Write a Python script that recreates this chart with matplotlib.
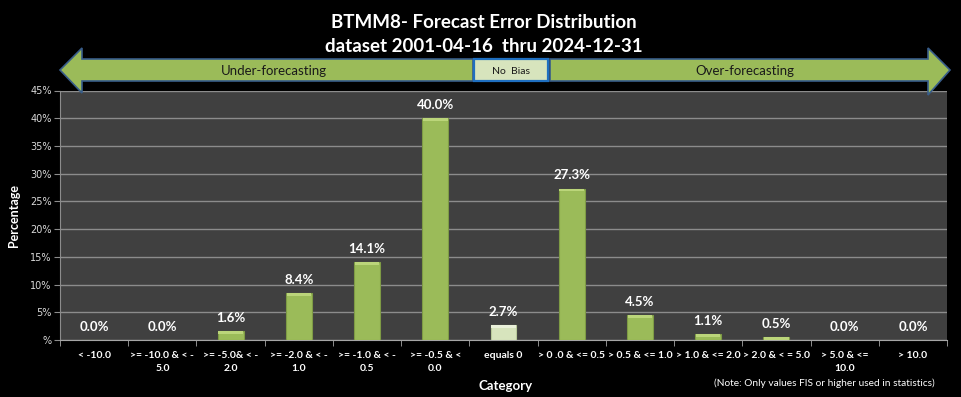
import matplotlib
matplotlib.use("Agg")
import matplotlib.pyplot as plt
from matplotlib.patches import Polygon, Rectangle
import numpy as np

categories = [
    "< -10.0",
    ">= -10.0 & < -\n5.0",
    ">= -5.0& < -\n2.0",
    ">= -2.0 & < -\n1.0",
    ">= -1.0 & < -\n0.5",
    ">= -0.5 & <\n0.0",
    "equals 0",
    "> 0 .0 & <= 0.5",
    "> 0.5 & <= 1.0",
    "> 1.0 & <= 2.0",
    "> 2.0 & < = 5.0",
    "> 5.0 & <=\n10.0",
    "> 10.0",
]
values = [0.0, 0.0, 1.6, 8.4, 14.1, 40.0, 2.7, 27.3, 4.5, 1.1, 0.5, 0.0, 0.0]
yticks = [0, 5, 10, 15, 20, 25, 30, 35, 40, 45]
ytick_labels = ["%", "5%", "10%", "15%", "20%", "25%", "30%", "35%", "40%", "45%"]
title_lines = ["BTMM8- Forecast Error Distribution", "dataset 2001-04-16  thru 2024-12-31"]

W, H = 961, 397
fig = plt.figure(figsize=(W / 100, H / 100), dpi=100, facecolor="black")
plt.rcParams["font.family"] = ["Lato", "DejaVu Sans"]

def fx(px):
    return px / W

def fy(py):
    return 1 - py / H

ax = fig.add_axes([fx(60), fy(340), fx(947) - fx(60), fy(90.5) - fy(340)])
ax.set_facecolor("#404040")

x = np.arange(len(categories))
main_green = "#9BBB59"
pale_green = "#D7E4BD"
colors = [pale_green if c == "equals 0" else main_green for c in categories]
edges = ["#B8C99A" if c == "equals 0" else "#7E9B45" for c in categories]
ax.bar(x, values, width=0.38, color=colors, edgecolor=edges, linewidth=0.8, zorder=3)
# top bevel highlight
vals = np.array(values)
cap = np.minimum(vals, 0.5)
hl = ["#EAF1DA" if c == "equals 0" else "#BBD57A" for c in categories]
ax.bar(x, cap, bottom=vals - cap, width=0.36, color=hl, linewidth=0, zorder=4)

for xi, v in zip(x, values):
    ax.annotate(f"{v:.1f}%", (xi, v), xytext=(0, 9.5), textcoords="offset points",
                ha="center", va="center", color="white", fontsize=9.5, fontweight="bold")

ax.set_xlim(-0.5, len(categories) - 0.5)
ax.set_ylim(0, 45)
ax.set_yticks(yticks)
ax.set_yticklabels(ytick_labels, color="#D9D9D9", fontsize=7, family="DejaVu Sans")
ax.yaxis.grid(True, color="#8C8C8C", linewidth=1.0, zorder=0)
ax.set_axisbelow(True)
ax.tick_params(axis="y", length=4, color="#8C8C8C", pad=2)

ax.set_xticks(x)
ax.set_xticklabels(categories, color="white", fontsize=7.5, fontweight="bold", linespacing=1.5)
ax.tick_params(axis="x", length=0, pad=8)
ax.set_xticks(np.arange(len(categories) + 1) - 0.5, minor=True)
ax.tick_params(axis="x", which="minor", length=4, color="#A6A6A6")

for s in ["top", "right"]:
    ax.spines[s].set_visible(False)
ax.spines["left"].set_color("#8C8C8C")
ax.spines["bottom"].set_color("#A6A6A6")

ax.set_ylabel("Percentage", color="white", fontsize=9, fontweight="bold", labelpad=6)
ax.yaxis.set_label_coords(-0.045, 0.5)

# titles
fig.text(fx(484), fy(22), title_lines[0], ha="center", va="center", color="white",
         fontsize=13.5, fontweight="bold")
fig.text(fx(484), fy(47), title_lines[1], ha="center", va="center", color="white",
         fontsize=13.5, fontweight="bold")

# arrows
arrow_fill = "#9BBB59"
arrow_edge = "#385D8A"
left_arrow = [(60, 70), (82, 48), (82, 59), (473, 59), (473, 81), (82, 81), (82, 93)]
right_arrow = [(550, 59), (928, 59), (928, 48), (950, 70), (928, 95), (928, 81), (550, 81)]
for pts in (left_arrow, right_arrow):
    fig.add_artist(Polygon([(fx(a), fy(b)) for a, b in pts], closed=True,
                           transform=fig.transFigure, facecolor=arrow_fill,
                           edgecolor=arrow_edge, linewidth=1.2))
fig.add_artist(Rectangle((fx(474), fy(81)), fx(548) - fx(474), fy(59) - fy(81),
                         transform=fig.transFigure, facecolor=pale_green,
                         edgecolor="#1F6FC0", linewidth=1.6))
fig.text(fx(274), fy(71), "Under-forecasting", ha="center", va="center", color="#1a1a1a", fontsize=9.5)
fig.text(fx(511), fy(71), "No  Bias", ha="center", va="center", color="#1a1a1a", fontsize=7.5)
fig.text(fx(745), fy(71), "Over-forecasting", ha="center", va="center", color="#1a1a1a", fontsize=9.5)

fig.text(fx(506), fy(386), "Category", ha="center", va="center", color="white", fontsize=9.5, fontweight="bold")
fig.text(fx(824), fy(383), "(Note: Only values FIS or higher used in statistics)", ha="center",
         va="center", color="white", fontsize=7.3)

fig.savefig("out.png", dpi=100, facecolor="black")
